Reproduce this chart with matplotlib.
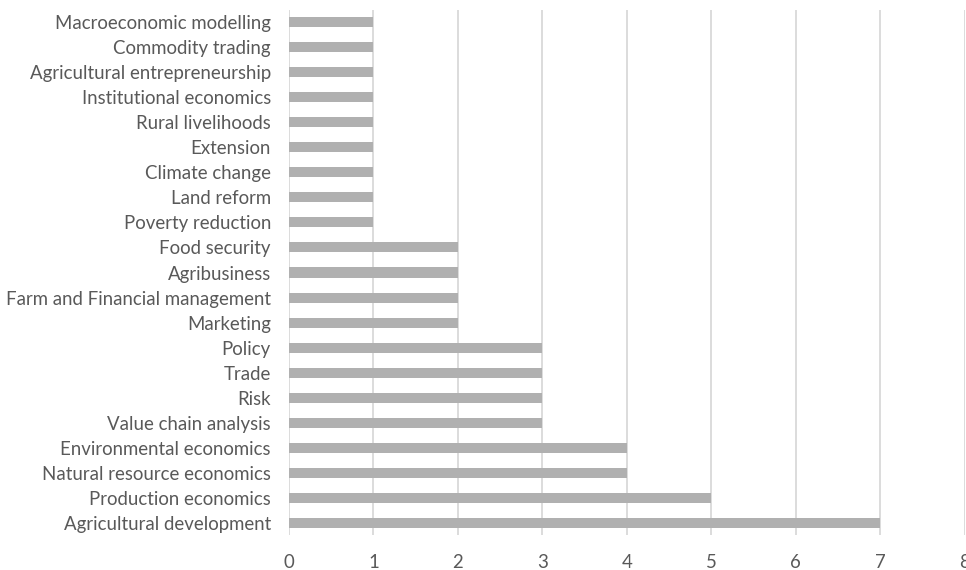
import matplotlib.pyplot as plt

topics = ["Agricultural development", "Production economics", "Natural resource economics",
          "Environmental economics", "Value chain analysis", "Risk", "Trade", "Policy",
          "Marketing", "Farm and Financial management", "Agribusiness", "Food security",
          "Poverty reduction", "Land reform", "Climate change", "Extension",
          "Rural livelihoods", "Institutional economics", "Agricultural entrepreneurship",
          "Commodity trading", "Macroeconomic modelling"]
counts = [7, 5, 4, 4, 3, 3, 3, 3, 2, 2, 2, 2, 1, 1, 1, 1, 1, 1, 1, 1, 1]
xticks = [0, 1, 2, 3, 4, 5, 6, 7, 8]

plt.rcParams['font.family'] = ['Lato', 'DejaVu Sans']

fig = plt.figure(figsize=(9.66, 5.70), dpi=100)
ax = fig.add_axes([289 / 966, 35 / 570, (964.5 - 289) / 966, 525 / 570])

ax.barh(range(len(topics)), counts, height=0.4, color='#B0B0B0', zorder=3)
ax.set_xlim(0, 8)
ax.set_ylim(-0.48, len(topics) - 0.52)
ax.set_xticks(xticks)
ax.set_yticks(range(len(topics)))
ax.set_yticklabels(topics)
ax.grid(axis='x', color='#D9D9D9', linewidth=1.3, zorder=0)
for s in ax.spines.values():
    s.set_visible(False)
ax.tick_params(axis='both', length=0, colors='#595959', labelsize=13.4)
ax.tick_params(axis='y', pad=13)
ax.tick_params(axis='x', pad=14)

fig.savefig("out.png")
